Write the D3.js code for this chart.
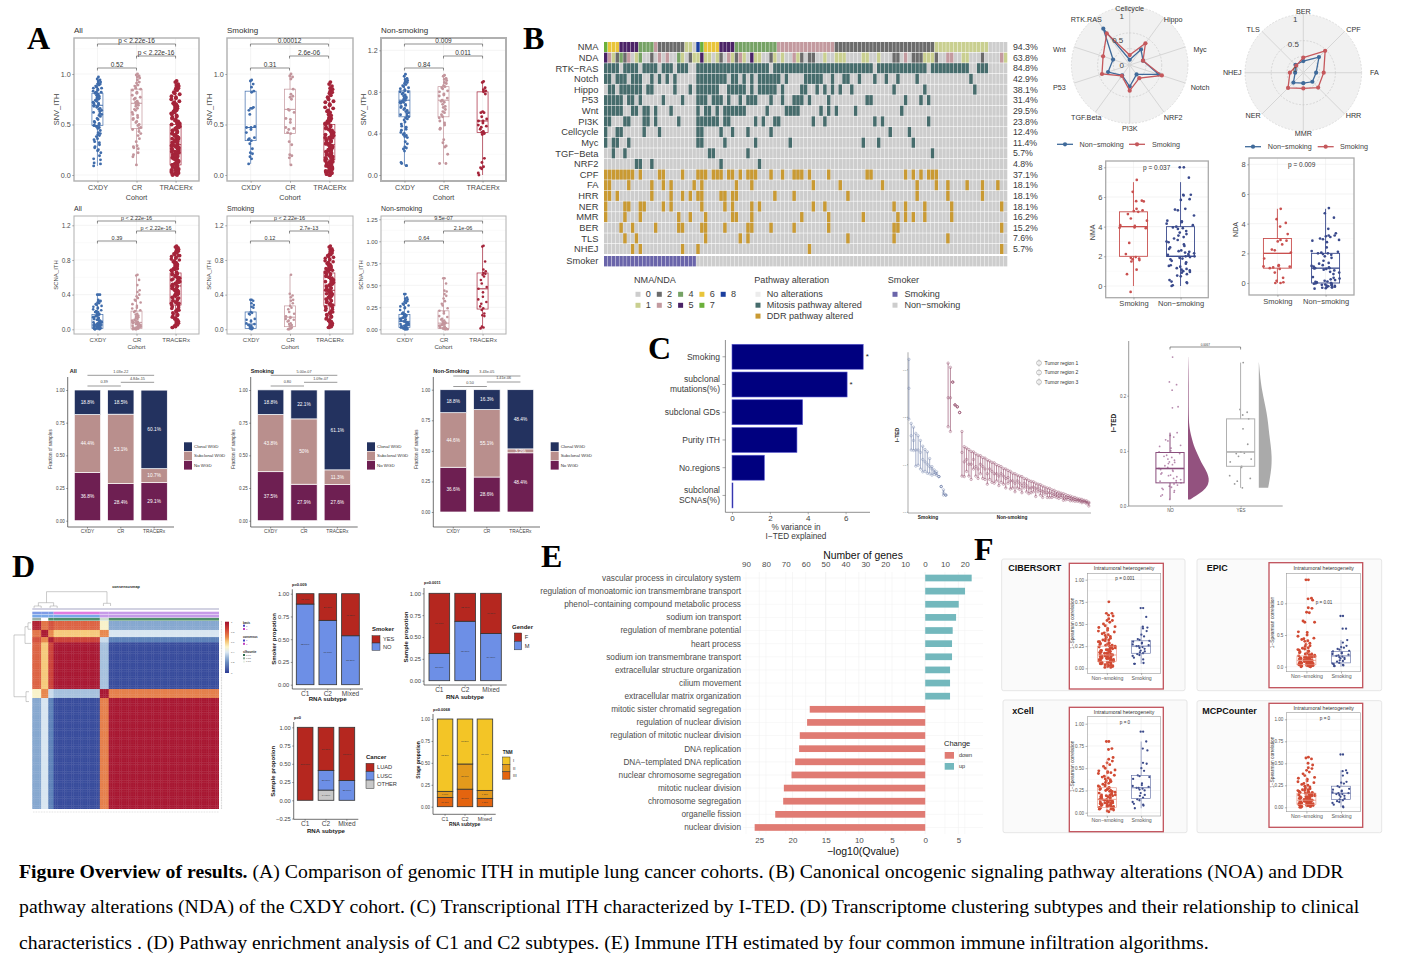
<!DOCTYPE html>
<html><head><meta charset="utf-8">
<script src="https://cdn.jsdelivr.net/npm/d3@7/dist/d3.min.js"></script>
<style>html,body{margin:0;padding:0;background:#fff}svg{display:block}text{font-family:"Liberation Sans",Arial,sans-serif}</style>
</head><body><svg id="c"></svg>
<script>
// ---------- DATA: panel A jitter ----------
const cohorts=['CXDY','CR','TRACERx'];
const snvAllCXDY=[.97,.95,.94,.93,.92,.91,.9,.9,.89,.88,.87,.86,.86,.85,.84,.83,.82,.82,.81,.8,.79,.78,.77,.76,.75,.75,.74,.73,.72,.71,.71,.7,.69,.68,.68,.67,.66,.65,.64,.63,.62,.61,.6,.59,.58,.56,.55,.53,.52,.51,.5,.49,.49,.48,.48,.47,.46,.44,.42,.41,.4,.39,.38,.36,.35,.33,.32,.3,.28,.27,.25,.24,.22,.19,.16,.15,.12,.11,.09];
const snvAllCR=[1,.99,.98,.97,.96,.94,.92,.91,.89,.88,.86,.85,.84,.82,.81,.79,.77,.76,.75,.73,.72,.71,.7,.69,.68,.66,.65,.64,.62,.6,.59,.57,.56,.55,.53,.52,.5,.49,.47,.46,.45,.43,.41,.39,.36,.33,.29,.28,.27,.26,.22,.2,.18,.1];
const snvAllTRACERx=[.93,.92,.9,.89,.88,.87,.86,.85,.84,.82,.81,.8,.78,.77,.76,.75,.73,.72,.71,.7,.69,.68,.67,.66,.65,.64,.63,.62,.61,.6,.59,.58,.57,.56,.55,.54,.53,.52,.51,.5,.5,.49,.48,.47,.47,.46,.45,.44,.44,.43,.42,.41,.41,.4,.39,.38,.38,.37,.36,.36,.35,.34,.34,.33,.32,.32,.31,.3,.3,.29,.28,.28,.27,.26,.26,.25,.25,.24,.23,.23,.22,.21,.21,.2,.2,.19,.18,.18,.17,.17,.16,.15,.15,.14,.14,.13,.12,.12,.11,.11,.1,.1,.09,.09,.08,.08,.07,.07,.06,.06,.05,.05,.04,.04,.03,.03,.02,.02,.01,.01,0,0,.47,.36,.29,.23,.16,.1,.05,.02,.01,.33,.19,.07];
const snvSmkCXDY=[.94,.93,.9,.87,.83,.82,.67,.66,.66,.64,.6,.48,.47,.47,.45,.42,.37,.36,.35,.34,.31,.26,.22,.21,.18,.16,.11];
const snvSmkCR=[1,.98,.97,.95,.85,.8,.78,.77,.75,.65,.64,.62,.56,.55,.52,.47,.46,.45,.42,.41,.33,.3,.2,.19,.17,.1];
const snvSmkTRACERx=[.92,.9,.88,.86,.85,.83,.82,.81,.79,.77,.75,.73,.72,.7,.69,.67,.66,.64,.63,.62,.6,.59,.57,.56,.55,.54,.53,.52,.51,.5,.49,.48,.47,.46,.45,.45,.44,.43,.42,.41,.4,.4,.39,.38,.37,.37,.36,.35,.34,.34,.33,.32,.31,.31,.3,.29,.29,.28,.27,.27,.26,.25,.25,.24,.23,.23,.22,.21,.21,.2,.2,.19,.18,.18,.17,.16,.16,.15,.15,.14,.13,.13,.12,.12,.11,.11,.1,.1,.09,.09,.08,.08,.07,.07,.06,.06,.05,.05,.04,.04,.03,.03,.02,.02,.01,.01,0,0,.28,.22,.14,.08,.04,.02,.37,.17];
const snvNonCXDY=[.97,.95,.93,.92,.91,.9,.89,.88,.87,.86,.85,.84,.83,.82,.81,.8,.8,.79,.78,.77,.76,.75,.74,.74,.73,.72,.71,.7,.7,.69,.68,.67,.66,.65,.64,.63,.62,.61,.6,.59,.58,.57,.56,.55,.54,.53,.51,.49,.47,.46,.44,.43,.41,.4,.39,.38,.37,.36,.32,.3,.27,.26,.25,.23,.12,.11,.09,.09];
const snvNonCR=[.96,.95,.93,.92,.91,.89,.88,.86,.85,.84,.83,.81,.8,.78,.77,.76,.74,.72,.71,.7,.68,.66,.65,.63,.61,.6,.58,.56,.55,.52,.5,.48,.45,.44,.34,.31,.28,.27,.2,.11,.11];
const snvNonTRACERx=[.9,.89,.84,.82,.81,.8,.78,.61,.6,.6,.56,.54,.52,.52,.5,.48,.47,.46,.44,.42,.41,.4,.39,.16,.12,.08,.07,.06,.02,0];
const scnaAllCXDY=[.4,.4,.4,.34,.33,.33,.32,.31,.3,.29,.28,.27,.26,.25,.24,.23,.22,.21,.2,.2,.19,.18,.18,.17,.16,.16,.15,.15,.14,.14,.13,.13,.12,.12,.11,.11,.1,.1,.09,.09,.08,.08,.08,.07,.07,.06,.06,.06,.05,.05,.05,.04,.04,.04,.03,.03,.03,.03,.02,.02,.02,.02,.01,.01,.01,.01,.01,0,0,0,.12,.07,.05,.03,.02,.01];
const scnaAllCR=[.63,.62,.57,.51,.45,.43,.4,.38,.36,.34,.33,.31,.29,.27,.25,.24,.22,.21,.2,.18,.17,.16,.15,.14,.13,.12,.11,.1,.1,.09,.09,.08,.08,.07,.07,.06,.06,.05,.05,.04,.04,.04,.03,.03,.03,.02,.02,.02,.01,.01,.01,.01,0,0,0];
const scnaAllTRACERx=[.96,.95,.94,.93,.92,.91,.9,.89,.88,.87,.86,.85,.84,.83,.82,.81,.8,.79,.78,.77,.76,.75,.74,.73,.72,.71,.7,.69,.68,.67,.66,.65,.64,.63,.62,.61,.6,.6,.59,.58,.57,.56,.55,.55,.54,.53,.52,.51,.5,.5,.49,.48,.47,.46,.45,.45,.44,.43,.42,.41,.4,.4,.39,.38,.37,.36,.35,.34,.33,.33,.32,.31,.3,.29,.28,.27,.26,.25,.24,.23,.22,.21,.2,.19,.18,.17,.16,.15,.14,.13,.12,.11,.1,.09,.08,.07,.06,.05,.04,.03,.02,.02,.7,.64,.58,.52,.47,.41,.36,.6,.68,.55,.5,.44,.3,.75,.85,.62];
const scnaSmkCXDY=[.34,.34,.33,.3,.28,.26,.25,.2,.19,.18,.17,.12,.11,.1,.09,.07,.06,.05,.05,.04,.03,.02,.02,.01,.01,0];
const scnaSmkCR=[.63,.41,.39,.37,.34,.33,.3,.27,.25,.23,.2,.18,.15,.14,.13,.12,.11,.1,.09,.07,.06,.05,.04,.02,.01,.01,0,0];
const scnaSmkTRACERx=[.96,.95,.93,.92,.91,.9,.88,.87,.86,.85,.84,.83,.82,.81,.8,.79,.78,.77,.76,.75,.74,.73,.72,.71,.7,.69,.68,.67,.66,.65,.64,.63,.62,.61,.6,.6,.59,.58,.57,.56,.55,.55,.54,.53,.52,.51,.5,.5,.49,.48,.47,.46,.45,.45,.44,.43,.42,.41,.4,.4,.39,.38,.37,.36,.35,.34,.33,.33,.32,.31,.3,.29,.28,.27,.26,.25,.24,.23,.22,.21,.2,.19,.18,.17,.16,.15,.14,.13,.12,.11,.1,.09,.08,.07,.06,.05,.04,.03,.02,.02,.7,.64,.58,.52,.47,.41,.36,.6,.68,.55];
const scnaNonCXDY=[.4,.4,.36,.35,.34,.33,.32,.31,.3,.29,.28,.27,.26,.25,.24,.22,.2,.19,.18,.17,.17,.16,.15,.15,.14,.14,.13,.13,.12,.12,.11,.11,.1,.1,.09,.09,.08,.08,.07,.07,.06,.06,.05,.05,.05,.04,.04,.04,.03,.03,.03,.02,.02,.02,.01,.01,.01,.01,0,0,0,0];
const scnaNonCR=[.58,.58,.52,.44,.43,.4,.38,.35,.32,.29,.27,.24,.21,.2,.18,.15,.14,.12,.11,.1,.09,.08,.07,.07,.06,.06,.05,.05,.04,.04,.03,.03,.02,.02,.01,.01,.01,0,0,0];
const scnaNonTRACERx=[.95,.94,.77,.68,.66,.64,.63,.62,.6,.56,.52,.48,.46,.42,.37,.34,.31,.29,.26,.24,.22,.18,.16,.15,.03,.02,.01];
// box stats: [low, q1, median, q3, high]
const snvAllBoxes=[[.09,.49,.69,.81,.97],[.1,.46,.71,.85,1],[0,.1,.3,.5,.93]];
const snvSmkBoxes=[[.11,.34,.47,.83,.94],[.1,.41,.65,.85,1],[0,.15,.3,.5,.92]];
const snvNonBoxes=[[.09,.56,.72,.81,.97],[.11,.56,.72,.85,.96],[0,.41,.52,.8,.9]];
const scnaAllBoxes=[[0,.01,.05,.17,.4],[0,.01,.08,.21,.63],[.02,.28,.5,.65,.96]];
const scnaSmkBoxes=[[0,.01,.06,.2,.34],[0,.03,.14,.27,.63],[.02,.27,.45,.65,.96]];
const scnaNonBoxes=[[0,.02,.09,.17,.4],[0,.01,.07,.21,.58],[.01,.23,.46,.64,.95]];
// ---------- DATA: WGD stacks ----------
const wgdCats=['CXDY','CR','TRACERx'];
const allNoWGD=[36.8,28.4,29.1], allSubWGD=[44.4,53.1,10.7], allClonalWGD=[18.8,18.5,60.1];
const smkNoWGD=[37.5,27.9,27.6], smkSubWGD=[43.8,50,11.3], smkClonalWGD=[18.8,22.1,61.1];
const nonNoWGD=[36.6,28.6,48.4], nonSubWGD=[44.6,55.1,3.2], nonClonalWGD=[18.8,16.3,48.4];
// ---------- DATA: oncoprint ----------
const pathwayNames=['RTK−RAS','Notch','Hippo','P53','Wnt','PI3K','Cellcycle','Myc','TGF−Beta','NRF2','CPF','FA','HRR','NER','MMR','BER','TLS','NHEJ'];
const pathwayPct=['84.8%','42.9%','38.1%','31.4%','29.5%','23.8%','12.4%','11.4%','5.7%','4.8%','37.1%','18.1%','18.1%','18.1%','16.2%','15.2%','7.6%','5.7%'];
const rtkRas=[0,1,2,3,5,6,7,8,10,11,12,13,15,16,17,19,20,21,24,25,26,27,28,29,30,31,32,33,34,35,36,37,38,39,40,41,42,44,45,46,47,48,49,50,51,52,53,54,55,56,57,58,59,60,61,62,63,64,65,66,67,68,69,71,72,73,74,75,76,77,78,79,80,81,82,83,85,86,87,88,89,90,91,92,93,94,97,98,99];
const notch=[0,1,3,4,5,7,8,9,12,14,16,18,24,25,26,27,28,29,30,31,33,34,36,38,40,41,42,43,44,45,47,52,53,54,55,56,59,62,63,66,70,73,76,81,95];
const hippo=[1,2,4,5,6,7,8,9,11,12,18,22,24,25,26,27,28,29,32,33,34,35,36,38,40,41,42,43,44,46,51,52,55,57,59,61,64,75,83,96];
const p53=[0,1,2,3,4,6,7,9,15,20,24,25,26,28,29,30,32,35,37,38,39,43,46,49,50,51,53,58,68,69,78,82,84];
const wnt=[0,1,2,3,4,7,8,10,11,13,17,24,26,27,29,31,32,33,34,35,36,42,47,48,49,50,56,58,60,65,77];
const pi3k=[0,1,5,6,10,11,13,19,24,25,26,27,28,29,31,32,39,41,44,45,54,57,70,72,84];
const cellcycle=[0,3,4,10,14,24,25,30,33,37,43,74,79];
const myc=[0,2,3,6,24,25,31,39,48,67,71,80];
const tgfBeta=[2,5,27,28,37,85];
const nrf2=[8,9,12,30,40];
const cpf=[0,1,2,3,4,5,6,7,9,14,15,20,24,25,26,28,29,30,32,33,35,37,38,39,43,46,49,50,51,53,58,68,69,78,80,82,84,85,86];
const fa=[0,1,6,12,15,17,23,25,34,38,54,61,72,81,86,89,94,98,102];
const hrr=[0,1,3,12,17,20,22,24,25,30,31,33,34,44,49,63,81,89,98];
const ner=[0,5,6,9,10,15,17,25,31,33,38,40,54,57,75,78,83,90,103];
const mmr=[0,5,9,19,22,26,33,34,38,51,58,67,76,78,80,83,90];
const ber=[4,7,13,19,20,25,26,31,37,38,43,49,58,75,76,103];
const tls=[5,8,26,35,37,63,75,89];
const nhej=[7,9,20,24,53,103];
const nmaRow=[7,6,6,6,5,5,5,5,5,4,4,4,4,3,2,2,2,2,2,2,2,1,1,0,8,7,6,6,6,6,5,5,5,5,4,4,4,4,4,4,4,4,4,4,4,3,3,3,3,3,3,3,3,3,3,3,3,3,3,3,2,2,2,2,2,2,2,2,2,2,2,2,2,2,2,2,2,2,2,2,2,2,2,2,2,2,1,1,1,1,1,1,1,1,1,1,1,1,1,1,0,0,0,0,0];
const ndaRow=[5,3,1,2,4,2,3,0,1,4,0,0,2,0,3,0,3,0,0,4,1,0,2,1,1,5,1,1,0,1,2,0,3,1,2,3,1,0,5,1,1,0,0,2,1,0,1,0,0,3,1,2,0,2,2,0,0,1,0,0,1,1,1,0,0,0,0,1,1,0,0,1,0,0,0,2,2,0,3,0,2,2,2,1,1,1,2,0,0,3,3,0,0,1,1,0,0,0,2,0,0,0,0,3,1];
const smokerCount=[24,81];
const nmaLevels=[0,1,2,3,4,5,6,7,8];
const pathLegend=['No alterations','Mitosis pathway altered','DDR pathway altered'];
const smokerLegend=['Smoking','Non−smoking'];
// ---------- DATA: radars ----------
const radar1Axes=['Cellcycle','Hippo','Myc','Notch','NRF2','PI3K','TGF.Beta','P53','Wnt','RTK.RAS'];
const radar1Non=[.09,.33,.24,.52,.2,.37,.22,.39,.3,.77];
const radar1Smk=[.17,.46,.24,.58,.28,.44,.23,.5,.48,.67];
const radar2Axes=['BER','CPF','FA','HRR','MMR','NER','NHEJ','TLS'];
const radar2Non=[.2,.38,.22,.22,.18,.24,.14,.19];
const radar2Smk=[.26,.53,.35,.36,.27,.37,.23,.17];
// ---------- DATA: NMA / NDA boxes ----------
const nmaSmk=[7.15,6.35,5.75,5.72,5.7,5.2,5.1,5.05,5,4.85,4.55,4.4,4.1,4.05,3.95,3.92,3.9,2.9,2.15,1.95,1.9,1.85,1.8,1.75,1.65,1.1,.8,-.4];
const nmaNon=[8,8,7.3,6.15,6.15,6.1,5.85,5.8,5.2,5.15,5.1,4.75,4.4,4.35,4.3,4.2,4.1,4,3.95,3.9,3.85,3.7,3.6,3.5,3.4,3.3,3.2,3.1,3,2.95,2.8,2.7,2.6,2.5,2.4,2.35,2.3,2.25,2.2,2.15,2.1,2.05,2,2,1.95,1.9,1.85,1.8,1.7,1.6,1.5,1.4,1.35,1.3,1.2,1.15,1.1,1.05,1,.95,.9,.8,.7,.65,.4,.3,.25,.2,.05,0];
const ndaSmk=[5,4.3,4.05,3.8,3.3,2.9,2.85,2.8,2.6,2.25,2.2,2.05,1.65,1.2,1.15,1.12,1.1,1.05,1,.95,.7,.35,.15,.05,0,0];
const ndaNon=[5.05,4.7,4.4,3.65,3.35,3.2,3.2,3.15,3.1,3,2.95,2.9,2.85,2.75,2.4,2.15,2.1,2.05,2,2,1.95,1.9,1.8,1.7,1.5,1.35,1.3,1.2,1.15,1.1,1.05,1,1,.98,.95,.9,.85,.75,.7,.6,.4,.35,.3,.25,.2,.15,.1,.08,.05,0,0,-.02,-.05,-.1,-.12,-.15,-.18,-.2,-.22,-.25,-.27,-.3,-.32,-.35,-.38,.02,-.08,-.28];
const nmaBoxes=[[0,2,4,5,7],[0,2,2,4,7]];
const ndaBoxes=[[0,1,2,3,5],[0,0,1,2,5]];
// ---------- DATA: panel C ----------
const varNames=[['Smoking'],['subclonal','mutations(%)'],['subclonal GDs'],['Purity ITH'],['No.regions'],['subclonal','SCNAs(%)']];
const varValues=[6.93,6.08,3.73,3.43,1.71,.05];
const itedSmkHi=[.321,.186,.178,.165,.16,.15,.138,.131,.126,.112,.095,.088,.084,.074,.053,.046,.035];
const itedSmkMid=[.26,.16,.15,.13,.13,.125,.11,.105,.1,.095,.09,.083,.08,.074,.053,.04,.035];
const itedSmkLo=[.195,.13,.129,.096,.098,.09,.084,.085,.081,.08,.077,.079,.077,.074,.053,.035,.035];
const itedNonHi=[.313,.304,.273,.225,.221,.209,.169,.137,.134,.131,.127,.126,.122,.119,.118,.114,.113,.109,.107,.104,.103,.099,.097,.095,.091,.09,.087,.085,.081,.08,.077,.075,.074,.07,.069,.066,.064,.063,.06,.058,.057,.054,.052,.05,.049,.046,.045,.042,.041,.039,.038,.036,.034,.033,.031,.03,.028,.027,.026,.024,.023,.02];
const itedNonMid=[.24,.24,.273,.225,.221,.209,.125,.105,.11,.1,.1,.11,.095,.09,.1,.095,.09,.08,.09,.085,.08,.08,.075,.08,.075,.07,.072,.065,.065,.06,.065,.06,.055,.06,.055,.05,.05,.052,.048,.05,.045,.042,.044,.04,.04,.038,.037,.036,.034,.035,.03,.03,.03,.028,.027,.026,.025,.024,.022,.022,.02,.018];
const itedNonLo=[.179,.169,.273,.225,.221,.209,.075,.074,.085,.075,.068,.09,.075,.07,.08,.07,.068,.058,.068,.062,.06,.065,.055,.062,.058,.05,.06,.048,.05,.042,.05,.047,.04,.05,.042,.038,.04,.042,.032,.042,.035,.03,.037,.03,.03,.03,.032,.03,.028,.03,.024,.025,.026,.023,.023,.022,.022,.021,.019,.02,.017,.012];
const itedLegend=['Tumor region 1','Tumor region 2','Tumor region 3'];
const rainNO=[.27,.225,.22,.21,.18,.178,.133,.128,.125,.12,.118,.11,.108,.105,.1,.098,.095,.092,.09,.088,.085,.083,.08,.079,.077,.075,.073,.07,.068,.066,.065,.063,.06,.058,.056,.055,.053,.05,.048,.046,.045,.043,.042,.04,.038,.036,.034,.032,.03,.028,.025,.02,.018,.012];
const rainYES=[.26,.175,.17,.165,.158,.14,.112,.098,.096,.095,.09,.085,.08,.072,.07,.055,.05,.045,.04,.033];
const rainBoxes=[[.012,.042,.068,.097,.133],[.033,.072,.098,.158,.26]];
const densNOv=[.012,.02,.03,.04,.05,.06,.07,.08,.09,.1,.11,.12,.13,.14,.15,.16,.18,.2,.22,.25,.27];
const densNOd=[.1,.45,.8,.98,1,.92,.78,.62,.5,.38,.27,.2,.13,.08,.05,.04,.03,.03,.03,.02,.005];
const densYESv=[.033,.05,.07,.09,.11,.13,.15,.17,.19,.21,.23,.26];
const densYESd=[.72,.85,.98,1,.92,.8,.72,.6,.42,.25,.12,.01];
// ---------- DATA: panel D ----------
const consensusMatrix=[[.95,.74,.82,.78,.49,.28],[.74,.97,.7,.6,.7,.4],[.82,.7,.96,.86,.38,.2],[.78,.6,.86,.98,.33,.03],[.49,.7,.38,.33,.98,.72],[.28,.4,.2,.03,.72,.98]];
const clusterSizes=[5,4,3,26,5,62];
const rnaSubtypes=['C1','C2','Mixed'];
const smokerNO=[.886,.707,.538], smokerYES=[.114,.293,.462];
const genderM=[.31,.68,.54], genderF=[.69,.32,.46];
const cancerOTHER=[0,.14,0], cancerLUSC=[0,.27,.27], cancerLUAD=[1,.59,.73];
const tnmIII=[.106,.2,.095], tnmII=[.069,.287,.091], tnmI=[.825,.513,.814];
// ---------- DATA: panel E ----------
const termsUp=['vascular process in circulatory system','regulation of monoatomic ion transmembrane transport','phenol−containing compound metabolic process','sodium ion transport','regulation of membrane potential','heart process','sodium ion transmembrane transport','extracellular structure organization','cilium movement','extracellular matrix organization'];
const qUp=[7,6,5.05,4.65,4.14,4.04,4.04,3.74,3.74,3.74];
const termsDown=['mitotic sister chromatid segregation','regulation of nuclear division','regulation of mitotic nuclear division','DNA replication','DNA−templated DNA replication','nuclear chromosome segregation','mitotic nuclear division','chromosome segregation','organelle fission','nuclear division'];
const qDown=[17.4,17.8,18.9,19,19.6,20.15,21.3,21.4,22.6,25.7];
const geneTicks=[-90,-80,-70,-60,-50,-40,-30,-20,-10,0,10,20];
const qTicks=[-25,-20,-15,-10,-5,0,5];
// ---------- DATA: panel F ----------
const cibNon=[.75,.62,.62,.6,.59,.56,.54,.54,.52,.5,.48,.47,.46,.45,.43,.42,.41,.4,.39,.38,.37,.36,.35,.34,.33,.32,.32,.31,.3,.3,.29,.28,.28,.27,.27,.26,.26,.25,.25,.24,.24,.23,.23,.22,.22,.21,.21,.2,.2,.19,.19,.18,.18,.17,.17,.16,.16,.15,.15,.15,.14,.14,.14,.13,.13,.13,.12,.12,.12,.11,.11,.11,.1,.1,.1,.09,.09,.09,.08,.08,.08,.07,.07,.07,.06,.06,.06,.05,.05,.05,.04,.04,.04,.03,.03,.02,.02,.01,.01,.12,.16,.2,.24,.09,.14,.06,.18,.11];
const cibSmk=[.68,.68,.58,.47,.46,.45,.42,.38,.36,.33,.32,.31,.3,.29,.28,.27,.26,.25,.25,.24,.23,.22,.2,.19,.18,.17,.16,.15,.14,.12,.1,.06,.05,.05];
const epicNon=[1.37,1.37,1.08,1.07,1.05,.93,.92,.86,.85,.72,.7,.7,.55,.54,.5,.48,.45,.44,.43,.41,.4,.37,.35,.33,.32,.3,.29,.28,.27,.26,.25,.24,.23,.22,.21,.2,.2,.19,.18,.18,.17,.17,.16,.16,.15,.15,.14,.14,.13,.13,.12,.12,.12,.11,.11,.1,.1,.1,.09,.09,.09,.08,.08,.08,.07,.07,.07,.06,.06,.06,.05,.05,.05,.04,.04,.04,.03,.03,.03,.02,.02,.02,.01,.01,.01,0,0,0,.06,.11,.15,.04,.08,.02,.13,.05,.03,.09];
const epicSmk=[.8,.8,.6,.6,.42,.38,.33,.31,.3,.28,.27,.25,.24,.22,.21,.2,.19,.18,.17,.16,.15,.14,.13,.12,.1,.09,.08,.06,.05,.04,.03,.02,.01,.01];
const xcellNon=[.8,.8,.72,.71,.62,.6,.58,.56,.54,.52,.5,.48,.47,.46,.45,.44,.42,.41,.4,.39,.38,.37,.36,.35,.34,.33,.32,.31,.3,.29,.28,.28,.27,.26,.26,.25,.24,.24,.23,.22,.22,.21,.2,.2,.19,.19,.18,.18,.17,.17,.16,.16,.15,.15,.14,.14,.13,.13,.12,.12,.12,.11,.11,.1,.1,.1,.09,.09,.09,.08,.08,.08,.07,.07,.06,.06,.05,.05,.04,.04,.03,.02,.01,.2,.15,.35,.25,.18,.12,.07,.3,.45,.27,.11];
const xcellSmk=[.91,.91,.8,.72,.7,.56,.55,.5,.47,.42,.41,.4,.38,.33,.31,.3,.29,.28,.28,.27,.26,.25,.22,.2,.19,.17,.15,.14,.12,.1,.09,.08,.05];
const mcpNon=[.57,.56,.55,.5,.48,.45,.44,.42,.4,.38,.36,.34,.33,.32,.3,.29,.28,.27,.26,.25,.24,.23,.22,.21,.21,.2,.2,.19,.19,.18,.18,.17,.17,.16,.16,.16,.15,.15,.15,.14,.14,.14,.13,.13,.13,.12,.12,.12,.11,.11,.11,.1,.1,.1,.09,.09,.09,.08,.08,.08,.07,.07,.07,.06,.06,.06,.06,.05,.05,.05,.05,.04,.04,.04,.04,.03,.03,.03,.03,.02,.02,.02,.02,.01,.01,.01,.01,0,0,.11,.07,.14,.05,.03,.09,.17,.02,.06];
const mcpSmk=[.6,.6,.42,.41,.39,.36,.29,.28,.27,.24,.23,.21,.2,.19,.18,.17,.16,.16,.15,.15,.14,.13,.12,.1,.09,.08,.07,.06,.05,.03,.01,0];
const immuneBoxes={cib:[[0,.08,.15,.25,.5],[.05,.17,.25,.31,.47]],epic:[[0,.03,.1,.17,.4],[0,.06,.17,.24,.42]],xcell:[[0,.06,.15,.28,.6],[.05,.16,.28,.42,.8]],mcp:[[0,.03,.08,.16,.35],[0,.09,.16,.24,.42]]};
const immuneCats=['Non−smoking','Smoking'];
const captionLines=[[['Figure Overview of results.',true],[' (A) Comparison of genomic ITH in mutiple lung cancer cohorts. (B) Canonical oncogenic signaling pathway alterations (NOA) and DDR',false]],
[['pathway alterations (NDA) of the CXDY cohort. (C) Transcriptional ITH characterized by I-TED. (D) Transcriptome clustering subtypes and their relationship to clinical',false]],
[['characteristics . (D) Pathway enrichment analysis of C1 and C2 subtypes. (E) Immune ITH estimated by four common immune infiltration algorithms.',false]]];

// ---------- HELPERS ----------
const svg=d3.select('#c').attr('width',1404).attr('height',972);
svg.append('rect').attr('width',1404).attr('height',972).attr('fill','#fff');
function T(g,x,y,s,o={}){const t=g.append('text').attr('x',x).attr('y',y).attr('dy','.35em').attr('font-size',o.size||8).attr('fill',o.fill||'#333').attr('text-anchor',o.anchor||'start').text(s);
 if(o.weight)t.attr('font-weight',o.weight); if(o.rot)t.attr('transform',`rotate(${o.rot} ${x} ${y})`); if(o.family)t.style('font-family',o.family); return t;}
function L(g,x1,y1,x2,y2,c='#888',w=.6){return g.append('line').attr('x1',x1).attr('y1',y1).attr('x2',x2).attr('y2',y2).attr('stroke',c).attr('stroke-width',w);}
function R(g,x,y,w,h,f,s,sw){const r=g.append('rect').attr('x',x).attr('y',y).attr('width',w).attr('height',h).attr('fill',f||'none');if(s)r.attr('stroke',s).attr('stroke-width',sw||.5);return r;}
function ax(g,gen,tx,ty,size,color,lc){const a=g.append('g').attr('transform',`translate(${tx},${ty})`).call(gen);a.select('.domain').remove();a.selectAll('text').attr('font-size',size).attr('fill',color||'#4d4d4d');a.selectAll('line').attr('stroke',lc||'#666').attr('stroke-width',.5);return a;}
const jit=i=>((i*i*0.2360679+(i+1)*0.6180339887)%1)*2-1;
function box(g,xc,bw,y,b,color,w=.8,medW){
 L(g,xc,y(b[0]),xc,y(b[1]),color,w);L(g,xc,y(b[3]),xc,y(b[4]),color,w);
 R(g,xc-bw/2,y(b[3]),bw,y(b[1])-y(b[3]),'none',color,w);
 L(g,xc-bw/2,y(b[2]),xc+bw/2,y(b[2]),color,medW||w*1.4);
}
function bracket(g,x1,x2,y,label,ly,size,col='#444'){
 g.append('path').attr('d',`M${x1},${y+2.5}V${y}H${x2}V${y+2.5}`).attr('fill','none').attr('stroke',col).attr('stroke-width',.6);
 T(g,(x1+x2)/2,ly,label,{size,anchor:'middle',fill:'#333'});
}
function jitterPlot(c){
 const g=svg.append('g');
 const y=d3.scaleLinear().domain(c.yd).range(c.yr);
 const x=d3.scalePoint().domain(c.cats).range([c.l,c.r]).padding(c.pad);
 if(c.bg)R(g,c.l,c.t,c.r-c.l,c.b-c.t,c.bg);
 const step=c.ticks[1]-c.ticks[0];
 c.ticks.forEach((v,i)=>{L(g,c.l,y(v),c.r,y(v),'#e8e8e8',.5);const m=v+step/2;if(y(m)>c.t)L(g,c.l,y(m),c.r,y(m),'#f2f2f2',.4);});
 c.cats.forEach(k=>L(g,x(k),c.t,x(k),c.b,'#e8e8e8',.5));
 c.groups.forEach((gr,i)=>{const k=c.cats[i];
  if(c.boxOver!==true)box(g,x(k),c.bw,y,gr.box,gr.color,c.bs||.7);
  const pr=c.pr+(gr.vals.length>90?(c.dense||0):0);
  g.append('g').selectAll('circle').data(gr.vals).join('circle').attr('cx',(d,j)=>x(k)+jit(j)*c.jw).attr('cy',d=>y(d)).attr('r',pr).attr('fill',gr.color);
  if(c.boxOver===true)box(g,x(k),c.bw,y,gr.box,gr.bcolor||gr.color,c.bs||.7);
 });
 R(g,c.l,c.t,c.r-c.l,c.b-c.t,'none',c.frame||'#b0b0b0',c.fw||1.2);
 ax(g,d3.axisLeft(y).tickValues(c.ticks).tickFormat(c.fmt).tickSize(1.8).tickPadding(1.5),c.l,0,c.ts,c.tc);
 ax(g,d3.axisBottom(x).tickSize(1.8).tickPadding(c.xp||1.5),0,c.b,c.xs,c.tc||'#444');
 if(c.xtitle)T(g,(c.l+c.r)/2,c.xty,c.xtitle,{size:c.xs,anchor:'middle',fill:'#444'});
 if(c.ytitle)T(g,c.ytx,(c.t+c.b)/2,c.ytitle,{size:c.ys||c.xs,anchor:'middle',rot:-90,fill:'#444'});
 if(c.title)T(g,c.l,c.tty,c.title,{size:c.tsz,fill:'#333'});
 return {g,x,y};
}
function stackPlot(c){
 const g=svg.append('g');
 const y=d3.scaleLinear().domain([0,1]).range([c.y0,c.y1]);
 const x=d3.scaleBand().domain(c.cats).range([c.bl,c.br]).paddingInner(c.pad).paddingOuter(0);
 const rows=c.cats.map((k,i)=>{const o={k};c.keys.forEach((s,j)=>o[s]=c.series[j][i]);return o;});
 const st=d3.stack().keys(c.keys).value((d,key)=>d[key]/(c.div||1))(rows);
 st.forEach((ser,j)=>{ser.forEach((s,i)=>{const k=c.cats[i];
   if(s[1]-s[0]<=0)return;
   R(g,x(k),y(s[1]),x.bandwidth(),y(s[0])-y(s[1]),c.colors[j],c.stroke||'#fff',c.sw||.7);
   const lab=c.labelFn(c.series[j][i]);
   T(g,x(k)+x.bandwidth()/2,(y(s[0])+y(s[1]))/2,lab,{size:c.ls,anchor:'middle',fill:c.lf});
 });});
 L(g,c.l,c.t,c.l,c.b,'#333',.7);L(g,c.l,c.b,c.e,c.b,'#333',.7);
 ax(g,d3.axisLeft(y).tickValues(c.ticks||[0,.25,.5,.75,1]).tickFormat(d3.format('.2f')).tickSize(1.5).tickPadding(1.5),c.l,0,c.ts,'#444','#333');
 ax(g,d3.axisBottom(x).tickSize(1.5).tickPadding(1),0,c.b,c.xs,'#444','#333');
 return {g,x,y};
}
const fmt1=d3.format('.1f'),fmt2=d3.format('.2f');

// ---------- PANEL LETTERS ----------
[['A',27,49],['B',523,49],['C',648,359],['D',12,577],['E',541,567],['F',974,560]].forEach(d=>{
 svg.append('text').attr('x',d[1]).attr('y',d[2]).attr('font-size',32).attr('font-weight','bold').attr('fill','#000').style('font-family','"Liberation Serif",serif').text(d[0]);});

// ---------- PANEL A ----------
const colA=['#3f6cab','#c3959c','#a5243a'];
function groupsOf(v,b){return v.map((vals,i)=>({vals,box:b[i],color:colA[i]}));}
const row1={cats:cohorts,pad:.6,t:38,b:181,bw:11,jw:4.3,pr:1.45,dense:.5,ts:7.2,xs:7.2,xp:2,xty:197,tty:30,tsz:8,fw:1.4,bg:'#fff',tc:'#4d4d4d',ys:7.5};
jitterPlot({...row1,l:74,r:199,yd:[0,1],yr:[175,74],ticks:[0,.5,1],fmt:fmt1,groups:groupsOf([snvAllCXDY,snvAllCR,snvAllTRACERx],snvAllBoxes),xtitle:'Cohort',ytitle:'SNV_ITH',ytx:56,title:'All'});
jitterPlot({...row1,l:227,r:353,yd:[0,1],yr:[175,74],ticks:[0,.5,1],fmt:fmt1,groups:groupsOf([snvSmkCXDY,snvSmkCR,snvSmkTRACERx],snvSmkBoxes),xtitle:'Cohort',ytitle:'SNV_ITH',ytx:209,title:'Smoking'});
jitterPlot({...row1,l:381,r:506,fw:2,yd:[0,1.2],yr:[175,50.3],ticks:[0,.4,.8,1.2],fmt:fmt1,groups:groupsOf([snvNonCXDY,snvNonCR,snvNonTRACERx],snvNonBoxes),ytitle:'SNV_ITH',ytx:363,title:'Non-smoking'});
T(svg,443.5,197,'Cohort',{size:7.2,anchor:'middle',fill:'#444'});
const row2={cats:cohorts,pad:.6,t:216,b:334,bw:11,jw:4.3,pr:1.3,dense:.5,ts:6.5,xs:6,xp:1.5,xty:347,tty:209,tsz:7,fw:1,bg:'#fff',tc:'#4d4d4d',ys:6};
jitterPlot({...row2,l:74,r:199,yd:[0,1.2],yr:[329.3,225.3],ticks:[0,.4,.8,1.2],fmt:fmt1,groups:groupsOf([scnaAllCXDY,scnaAllCR,scnaAllTRACERx],scnaAllBoxes),xtitle:'Cohort',ytitle:'SCNA_ITH',ytx:56,title:'All'});
jitterPlot({...row2,l:227,r:353,yd:[0,1.2],yr:[329.3,225.3],ticks:[0,.4,.8,1.2],fmt:fmt1,groups:groupsOf([scnaSmkCXDY,scnaSmkCR,scnaSmkTRACERx],scnaSmkBoxes),xtitle:'Cohort',ytitle:'SCNA_ITH',ytx:209,title:'Smoking'});
jitterPlot({...row2,l:381,r:506,yd:[0,1.25],yr:[329.3,219.3],ticks:[0,.25,.5,.75,1,1.25],fmt:fmt2,ts:5.8,groups:groupsOf([scnaNonCXDY,scnaNonCR,scnaNonTRACERx],scnaNonBoxes),xtitle:'Cohort',ytitle:'SCNA_ITH',ytx:361,title:'Non-smoking'});
function aBrackets(l,labs,ys,lys,size){const step=(125)/3.2,a=l+.6*step,b=a+step,c=b+step;
 bracket(svg,a,c,ys[0],labs[0],lys[0],size);bracket(svg,b,c,ys[1],labs[1],lys[1],size);bracket(svg,a,b,ys[2],labs[2],lys[2],size);}
aBrackets(74,['p < 2.22e-16','p < 2.22e-16','0.52'],[44,56,68],[40.5,53,65],6.5);
aBrackets(227,['0.00012','2.6e-06','0.31'],[44,56,68],[40.5,53,65],6.5);
aBrackets(381,['0.009','0.011','0.84'],[44,56,68],[40.5,53,65],6.5);
aBrackets(74,['p < 2.22e-16','p < 2.22e-16','0.39'],[221,231,241],[218.5,228.5,238.5],5.5);
aBrackets(227,['p < 2.22e-16','2.7e-13','0.12'],[221,231,241],[218.5,228.5,238.5],5.5);
aBrackets(381,['9.5e-07','2.1e-06','0.64'],[221,231,241],[218.5,228.5,238.5],5.5);

// WGD stacks
const wgdColors=['#6e1f52','#b98f8d','#23325f'],wgdKeys=['No','Sub','Clonal'];
function wgd(c,series,title,br,bl2,leg){
 const s=stackPlot({...c,cats:wgdCats,pad:.21,keys:wgdKeys,series,div:100,colors:wgdColors,labelFn:d=>d+'%',lf:'#fff',ls:4.8,ts:4.5,xs:4.8,t:377,b:527});
 T(svg,c.l+(title.length>4?0:2),371,title,{size:5.5,weight:'bold',fill:'#222'});
 T(svg,c.l-17,(377+527)/2-3,'Fraction of samples',{size:4.5,anchor:'middle',rot:-90,fill:'#333'});
 const x=s.x,bw=x.bandwidth(),cx=k=>x(k)+bw/2;
 const [a,b,d]=wgdCats.map(cx);
 const bt=(x1,x2,y,t,ly)=>{L(svg,x1,y,x2,y,'#555',.6);T(svg,(x1+x2)/2,ly,t,{size:3.8,anchor:'middle',fill:'#444'});};
 bt(a,d,br[0],bl2[0],br[0]-4);bt(b,d,br[1],bl2[1],br[1]-4);bt(a,b,br[2],bl2[2],br[2]-4);
 const rows=[['Clonal WGD','#23325f'],['Subclonal WGD','#b98f8d'],['No WGD','#6e1f52']];
 rows.forEach((r,i)=>{R(svg,leg,442.3+i*9.3,8,8.7,r[1]);T(svg,leg+10,446.5+i*9.3,r[0],{size:4.4,fill:'#333'});});
}
wgd({l:67.7,e:174,y0:520.7,y1:390,bl:74.3,br:167.3},[allNoWGD,allSubWGD,allClonalWGD],'All',[375.3,382.3,386],['1.03e-22','4.84e-15','0.39'],184);
wgd({l:250.7,e:357.7,y0:520.7,y1:390,bl:257.5,br:350.5},[smkNoWGD,smkSubWGD,smkClonalWGD],'Smoking',[375.3,382.3,386],['5.00e-07','1.09e-07','0.80'],367);
wgd({l:433.3,e:540,y0:512,y1:389.7,bl:440,br:533.7},[nonNoWGD,nonSubWGD,nonClonalWGD],'Non-Smoking',[376,382,386.5],['3.43e-05','1.41e-06','0.50'],550.7);

// ---------- PANEL B oncoprint ----------
const bG=svg.append('g');
const cols=d3.range(105);
const bx=d3.scaleBand().domain(cols).range([603.8,1007.5]);
const rowNames=['NMA','NDA',...pathwayNames];
const by=d3.scaleBand().domain(rowNames).range([47-5.315,249+5.315]);
const nmaColor=d3.scaleOrdinal().domain(nmaLevels).range(['#cdcdcd','#c9cf90','#6b6b6b','#c39a9f','#76a265','#4a2266','#e9c53a','#6bb03a','#1b3f9f']);
const pathRows=[rtkRas,notch,hippo,p53,wnt,pi3k,cellcycle,myc,tgfBeta,nrf2,cpf,fa,hrr,ner,mmr,ber,tls,nhej];
const cw=bx.bandwidth(),ch=by.bandwidth();
const cell=(k,c,f,top,h)=>R(bG,bx(c)+.2,top,cw-.4,h,f);
cols.forEach(c=>{cell('',c,nmaColor(nmaRow[c]),by('NMA')+.3,ch-.6);cell('',c,nmaColor(ndaRow[c]),by('NDA')+.3,ch-.6);});
pathwayNames.forEach((name,i)=>{const set=new Set(pathRows[i]);const col=i<10?'#466c6c':'#c99a33';
 cols.forEach(c=>{cell('',c,'#cdcdcd',by(name)+.3,ch-.6);if(set.has(c))cell('',c,col,by(name)+.3,ch-.6);});});
cols.forEach(c=>cell('',c,c<smokerCount[0]?'#6a65aa':'#cdcdcd',256,10.4));
rowNames.forEach((n,i)=>T(bG,598.4,by(n)+ch/2,n,{size:9.3,anchor:'end',fill:'#3a3a3a'}));
T(bG,598.4,261,'Smoker',{size:9.3,anchor:'end',fill:'#3a3a3a'});
const pct=['94.3%','63.8%',...pathwayPct];
rowNames.forEach((n,i)=>T(bG,1012.9,by(n)+ch/2,pct[i],{size:8.8,fill:'#3a3a3a'}));
// legends
T(bG,634,280,'NMA/NDA',{size:9.1,fill:'#3a3a3a'});
[0,2,4,6,8].forEach((v,i)=>{R(bG,635.5+i*21.3,291.8,5,5,nmaColor(v));T(bG,645.8+i*21.3,294.3,v,{size:9.1,fill:'#3a3a3a'});});
[1,3,5,7].forEach((v,i)=>{R(bG,635.5+i*21.3,302.8,5,5,nmaColor(v));T(bG,645.8+i*21.3,305.3,v,{size:9.1,fill:'#3a3a3a'});});
T(bG,754.3,280,'Pathway alteration',{size:9.1,fill:'#3a3a3a'});
['#ececec','#466c6c','#c99a33'].forEach((c,i)=>{R(bG,755.5,291.8+i*10.9,5,5,c);T(bG,766.8,294.3+i*10.9,pathLegend[i],{size:9.1,fill:'#3a3a3a'});});
T(bG,887.8,280,'Smoker',{size:9.1,fill:'#3a3a3a'});
['#6a65aa','#cdcdcd'].forEach((c,i)=>{R(bG,892.5,291.8+i*10.9,5,5,c);T(bG,904.4,294.3+i*10.9,smokerLegend[i],{size:9.1,fill:'#3a3a3a'});});

// Radars
function radar(cx,cy,axes,non,smk,labels,lrx,lry,lyo,tl){
 const g=svg.append('g').attr('transform',`translate(${cx},${cy})`);
 const Rr=58.3,r=d3.scaleLinear().domain([0,1]).range([0,Rr]);
 const n=axes.length,ang=i=>i*2*Math.PI/n;
 g.append('circle').attr('r',Rr).attr('fill','#f1f1f1').attr('stroke','#cfcfcf').attr('stroke-width',.6).attr('stroke-dasharray','2 1.5');
 axes.forEach((a,i)=>{const p=d3.pointRadial(ang(i),Rr);L(g,0,0,p[0],p[1],'#d6d6d6',1);});
 [.55,.28].forEach(v=>g.append('circle').attr('r',r(v)).attr('fill','none').attr('stroke','#c4c4c4').attr('stroke-width',.6).attr('stroke-dasharray','2 1.5'));
 const line=d3.lineRadial().angle((d,i)=>ang(i)).radius(d=>r(d)).curve(d3.curveLinearClosed);
 [[non,'#3f6a9a'],[smk,'#c5585c']].forEach(([v,c])=>{
  g.append('path').attr('d',line(v)).attr('fill','none').attr('stroke',c).attr('stroke-width',1.3);
  v.forEach((d,i)=>{const p=d3.pointRadial(ang(i),r(d));g.append('circle').attr('cx',p[0]).attr('cy',p[1]).attr('r',2.1).attr('fill',c);});
 });
 axes.forEach((a,i)=>{const t=ang(i);T(g,lrx*Math.sin(t),lyo-lry*Math.cos(t),a,{size:7.2,anchor:'middle',fill:'#333'});});
 tl.forEach(d=>T(g,d[1],d[2],d[0],{size:8,anchor:'middle',fill:'#444'}));
}
radar(1129.7,65,radar1Axes,radar1Non,radar1Smk,null,74,60,3.5,[['1',-8,-49],['0.5',-12,-25],['0',-8,0]]);
radar(1303.3,72.7,radar2Axes,radar2Non,radar2Smk,null,71,61,0,[['1',-8,-54],['0.5',-10,-29],['0',-8,-4]]);
function radarLeg(x1,y,x2,x3,x4){
 [[x1,x2,'#3f6a9a','Non−smoking'],[x3,x4,'#c5585c','Smoking']].forEach(d=>{L(svg,d[0],y,d[0]+16,y,d[2],1.3);svg.append('circle').attr('cx',d[0]+8).attr('cy',y).attr('r',2.1).attr('fill',d[2]);T(svg,d[1],y,d[3],{size:7.2,fill:'#444'});});
}
radarLeg(1057,144.3,1079.5,1129,1152);
radarLeg(1245,146.7,1267.7,1317.7,1340);

// NMA/NDA boxes
function bBox(l,r,t,b,v8,v0,labs,vals,boxes,yt,ptx,pty,ptxt){
 const g=svg.append('g');
 const y=d3.scaleLinear().domain([0,8]).range([v0,v8]);
 const x=d3.scalePoint().domain(['Smoking','Non−smoking']).range([l,r]).padding(.59);
 [0,2,4,6,8].forEach(v=>{L(g,l,y(v),r,y(v),'#e9e9e9',.5);if(v<8)L(g,l,y(v+1),r,y(v+1),'#f3f3f3',.4);});
 x.domain().forEach(k=>L(g,x(k),t,x(k),b,'#e9e9e9',.5));
 const cols=['#c9504f','#3a4a8c'];
 x.domain().forEach((k,i)=>{box(g,x(k),28,y,boxes[i],cols[i],.9,1.3);
  g.append('g').selectAll('circle').data(vals[i]).join('circle').attr('cx',(d,j)=>x(k)+jit(j)*14).attr('cy',d=>y(d)).attr('r',1.35).attr('fill',cols[i]);});
 R(g,l,t,r-l,b-t,'none','#aaa',1.3);
 ax(g,d3.axisLeft(y).tickValues([0,2,4,6,8]).tickSize(1.8).tickPadding(1.5),l,0,7.5,'#4d4d4d');
 ax(g,d3.axisBottom(x).tickSize(1.8).tickPadding(1.5),0,b,7.5,'#444');
 T(g,l-13.5,(t+b)/2+3,yt,{size:7,anchor:'middle',rot:-90,fill:'#444'});
 T(g,ptx,pty,ptxt,{size:6.5,anchor:'middle',fill:'#333'});
}
bBox(1105.7,1208.3,161,297.7,167.3,286,null,[nmaSmk,nmaNon],nmaBoxes,'NMA',1156.7,167.7,'p = 0.037');
bBox(1249,1354,158,295,164.3,283,null,[ndaSmk,ndaNon],ndaBoxes,'NDA',1301.7,164.3,'p = 0.009');

// ---------- PANEL C ----------
(function(){
 const g=svg.append('g');
 const x=d3.scaleLinear().domain([0,6]).range([732,845.6]);
 const y=d3.scaleBand().domain(varNames.map(d=>d.join(' '))).range([342.9,509.3]).paddingInner(.1).paddingOuter(.05);
 varNames.forEach((n,i)=>{const k=n.join(' ');
  R(g,x(0),y(k),x(varValues[i])-x(0),y.bandwidth(),'#00007f','#5a5ad0',.6);
  n.forEach((s,j)=>T(g,720,y(k)+y.bandwidth()/2+(n.length>1?(j-.5)*10:0),s,{size:8.5,anchor:'end',fill:'#3a3a3a'}));
  L(g,722.5,y(k)+y.bandwidth()/2,725.4,y(k)+y.bandwidth()/2,'#555',.5);
 });
 T(g,x(varValues[0])+2.5,356,'*',{size:8,fill:'#222'});T(g,x(varValues[1])+2.5,384,'*',{size:8,fill:'#222'});
 L(g,725.4,340,725.4,512.3,'#444',.6);L(g,725.4,512.3,870,512.3,'#444',.6);
 ax(g,d3.axisBottom(x).tickValues([0,2,4,6]).tickFormat(d3.format('d')).tickSize(2).tickPadding(1),0,512.3,8,'#444');
 T(g,796,526.7,'% variance in',{size:8.2,anchor:'middle',fill:'#3a3a3a'});
 T(g,796,535.7,'I−TED explained',{size:8.2,anchor:'middle',fill:'#3a3a3a'});
 // lollipops
 const hi=[...itedSmkHi,...itedNonHi],mid=[...itedSmkMid,...itedNonMid],lo=[...itedSmkLo,...itedNonLo];
 const px=d3.scaleLinear().domain([0,hi.length-1]).range([908.9,1088.8]);
 const py=d3.scaleLinear().domain([0,.3]).range([511.7,369.3]);
 L(g,908,352.3,908,513,'#555',.5);L(g,908,513,1091,513,'#555',.5);
 ax(g,d3.axisLeft(py).tickValues([0,.1,.2,.3]).tickFormat(fmt1).tickSize(1).tickPadding(.5),908,0,2.5,'#777');
 hi.forEach((h,i)=>{const c=i<itedSmkHi.length?'#6b7ca6':'#8b3f60',xx=px(i);
  L(g,xx,py(h),xx,py(lo[i]),c,.6);
  [h,mid[i],lo[i]].forEach(v=>g.append('circle').attr('cx',xx).attr('cy',py(v)).attr('r',1.2).attr('fill','none').attr('stroke',c).attr('stroke-width',.4));
 });
 T(g,897.5,435,'I−TED',{size:5,weight:'bold',anchor:'middle',rot:-90,fill:'#222'});
 T(g,928,517,'Smoking',{size:4.8,weight:'bold',anchor:'middle',fill:'#222'});
 T(g,1012,517,'Non-smoking',{size:4.8,weight:'bold',anchor:'middle',fill:'#222'});
 itedLegend.forEach((s,i)=>{g.append('circle').attr('cx',1039).attr('cy',363+i*9.5).attr('r',2.4).attr('fill','none').attr('stroke','#666').attr('stroke-width',.4);L(g,1039,363+i*9.5-4,1039,363+i*9.5+4,'#888',.3);T(g,1044.6,363+i*9.5,s,{size:5,fill:'#333'});});
 // raincloud
 const ry=d3.scaleLinear().domain([0,.2]).range([506,395.7]);
 const rx=d3.scalePoint().domain(['NO','YES']).range([1170,1240.6]);
 L(g,1128.7,341,1128.7,506,'#555',.6);L(g,1128.7,506,1282.7,506,'#555',.6);
 ax(g,d3.axisLeft(ry).tickValues([0,.1,.2]).tickFormat(fmt1).tickSize(1.5).tickPadding(1),1128.7,0,4.5,'#555');
 ax(g,d3.axisBottom(rx).tickSize(1.5).tickPadding(1),0,506,4.5,'#555');
 T(g,1114,423,'I−TED',{size:6.5,weight:'bold',anchor:'middle',rot:-90,fill:'#222'});
 const rc=['#8a4f7d','#b0b0b0'],rv=[rainNO,rainYES];
 ['NO','YES'].forEach((k,i)=>{
  g.append('g').selectAll('circle').data(rv[i]).join('circle').attr('cx',(d,j)=>rx(k)+jit(j)*11).attr('cy',d=>ry(d)).attr('r',.9).attr('fill',i?'#999':'#b78aae');
  box(g,rx(k),28.2,ry,rainBoxes[i],rc[i],1,1.6);
 });
 const area=(base,w,vs,ds)=>d3.area().x0(base).x1((d,i)=>base+ds[i]*w).y(d=>ry(d)).curve(d3.curveBasis)(vs);
 g.append('path').attr('d',area(1188,21,densNOv,densNOd)).attr('fill','#93527f');
 g.append('path').attr('d',area(1258.8,13,densYESv,densYESd)).attr('fill','#aaaaaa');
 bracket(g,1170,1240.6,347,'0.0067',344.5,3);
})();

// ---------- PANEL D ----------
(function(){
 const g=svg.append('g');
 const hx=d3.scaleLinear().domain([0,105]).range([32.3,219]);
 const hy=d3.scaleLinear().domain([0,105]).range([621,809]);
 const hc=d3.scaleLinear().domain([0,.2,.3,.4,.5,.6,.7,.8,.87,1]).range(['#2f3f96','#5a7fb8','#8fb0d5','#d8e6f1','#fbf3c4','#f6c979','#e8864a','#d9573e','#c73a35','#a10d2e']);
 let sx=0;const starts=clusterSizes.map(s=>{const r=sx;sx+=s;return r;});
 const cwid=hx(1)-hx(0),chei=hy(1)-hy(0);
 clusterSizes.forEach((si,i)=>clusterSizes.forEach((sj,j)=>{
  for(let a=0;a<si;a++)for(let b=0;b<sj;b++){R(g,hx(starts[j]+b),hy(starts[i]+a),cwid+(starts[j]+b<104?.4:0),chei+(starts[i]+a<104?.4:0),hc(consensusMatrix[i][j]));}
 }));
 d3.range(1,105).forEach(k=>{L(g,hx(k),621,hx(k),809,'rgba(255,255,255,.13)',.3);L(g,32.3,hy(k),219,hy(k),'rgba(255,255,255,.13)',.3);});
 // annotation strips
 const stripCols=[['#7d9be6','#7d9be6','#7d9be6','#e07be0','#c69be8','#c69be8'],['#78a8e8','#78a8e8','#78a8e8','#78a8e8','#c49be8','#c49be8'],['#9ab0a8','#ffffff','#4f8f6a','#4f8f6a','#cfe0d0','#4f8f6a']];
 stripCols.forEach((row,r)=>row.forEach((c,i)=>R(g,hx(starts[i]),611.7+r*3.1,hx(clusterSizes[i])-hx(0),2.7,c)));
 L(g,32.3,609,219,609,'#6a6aa0',.6);
 // dendrograms
 const top=(a,b,h,hc1,hc2)=>g.append('path').attr('d',`M${hx(a)},${608-hc1}V${608-h}H${hx(b)}V${608-hc2}`).attr('fill','none').attr('stroke','#999').attr('stroke-width',.5);
 top(8,42,16.3,5.3,4.7);top(3.4,12,5.3,2,2);top(1,5,2,0,0);top(10,14,2,0,0);top(40,44,4.7,2,2);
 const left=(a,b,h,h1,h2)=>g.append('path').attr('d',`M${31-h1},${hy(a)}H${31-h}V${hy(b)}H${31-h2}`).attr('fill','none').attr('stroke','#999').attr('stroke-width',.5);
 left(7.8,42.3,17,6,5);left(3.2,12.5,6,3,0);left(1,4.6,3,0,0);left(39.5,45,5,2,2);
 T(g,126,587,'consensusmap',{size:3.8,weight:'bold',anchor:'middle',fill:'#222'});
 // colourbar
 const cb=d3.scaleLinear().domain([0,1]).range([672.7,621.7]);
 d3.range(0,1,.02).forEach(v=>R(g,225,cb(v+.02),4,cb(v)-cb(v+.02)+.3,hc(v)));
 [0,.2,.4,.6,.8,1].forEach(v=>T(g,231,cb(v),v,{size:2.5,fill:'#555'}));
 [['basis',622.7,['#4040c0','#c040c0']],['consensus',637.5,['#4040c0','#c040c0']]].forEach(d=>{T(g,243,d[1],d[0],{size:2.8,weight:'bold',fill:'#222'});d[2].forEach((c,i)=>{R(g,243,d[1]+2+i*3.3,2,2,c);T(g,246,d[1]+3+i*3.3,i+1,{size:2.5,fill:c});});});
 T(g,243,652,'silhouette',{size:2.8,weight:'bold',fill:'#222'});
 ['0.96','0.55','0.10'].forEach((s,i)=>{R(g,243,654+i*3.3,2,2,['#2a6a4a','#8ab09a','#e8f0e8'][i]);T(g,246,655+i*3.3,s,{size:2.5,fill:'#555'});});
 g.append('line').attr('x1',221.5).attr('x2',221.5).attr('y1',621).attr('y2',809).attr('stroke','#ccc').attr('stroke-width',1.2).attr('stroke-dasharray','.8 .8');
 g.append('line').attr('x1',33).attr('x2',219).attr('y1',812).attr('y2',812).attr('stroke','#ddd').attr('stroke-width',1).attr('stroke-dasharray','.8 .8');
})();
const pctLab=d=>(d*100).toFixed(2)+'%';
function dStack(c,title,ptxt,px,py,xlabY,xT,ty,tX,tY,legTitle,legX,legY,items,lsz){
 const s=stackPlot({...c,cats:rnaSubtypes,labelFn:pctLab,lf:'#333',stroke:'#333',sw:.8});
 T(svg,px,py,ptxt,{size:4,weight:'bold',fill:'#222'});
 T(svg,xT,xlabY,'RNA subtype',{size:c.xs-.4,weight:'bold',anchor:'middle',fill:'#222'});
 T(svg,tX,tY,title,{size:c.xs-.5,weight:'bold',anchor:'middle',rot:-90,fill:'#222'});
 T(svg,legX,legY,legTitle,{size:lsz,weight:'bold',fill:'#222'});
 items.forEach((it,i)=>{const h=it.h;R(svg,legX+it.dx,legY+it.dy+i*h,it.w,h,it.c,'#333',.5);T(svg,legX+it.dx+it.w+3,legY+it.dy+i*h+h/2,it.t,{size:lsz-.3,fill:'#333'});});
}
const cRed='#b5271f',cBlue='#6d8fe6';
dStack({l:292.3,e:363,t:589.3,b:689,y0:684.7,y1:593.7,bl:296.3,br:359.3,pad:.22,keys:['NO','YES'],series:[smokerNO,smokerYES],colors:[cBlue,cRed],ts:5.8,xs:6.5,ls:2.5},'Smoker propotion','p=0.009',292,584.3,699,327.7,0,274,639,'Smoker',372,628.7,[{t:'YES',c:cRed,dx:0,dy:7,w:8,h:7.3},{t:'NO',c:cBlue,dx:0,dy:7,w:8,h:7.3}],6);
dStack({l:424,e:506.7,t:588,b:685,y0:680.7,y1:593.3,bl:429,br:501.3,pad:.2,keys:['M','F'],series:[genderM,genderF],colors:[cBlue,cRed],ts:5.8,xs:6.5,ls:2.5},'Sample propotion','p=0.0011',424,583,696.7,465,0,405.5,637,'Gender',512,626.7,[{t:'F',c:cRed,dx:2.3,dy:6.3,w:7.4,h:8.4},{t:'M',c:cBlue,dx:2.3,dy:6.3,w:7.4,h:8.4}],6);
dStack({l:293.7,e:358.3,t:722,b:819.3,y0:800.3,y1:727.3,bl:297.3,br:354.7,pad:.25,keys:['OTHER','LUSC','LUAD'],series:[cancerOTHER,cancerLUSC,cancerLUAD],colors:['#c8c8c8',cBlue,cRed],ticks:[-.25,0,.25,.5,.75,1],ts:5.8,xs:6.5,ls:2.5},'Sample propotion','p=0',294,717.7,831,326,0,273.3,771.3,'Cancer',366,756.7,[{t:'LUAD',c:cRed,dx:0,dy:6.6,w:8,h:8.4},{t:'LUSC',c:cBlue,dx:0,dy:6.6,w:8,h:8.4},{t:'OTHER',c:'#c8c8c8',dx:0,dy:6.6,w:8,h:8.4}],6);
dStack({l:433,e:495.7,t:714,b:814.3,y0:806.7,y1:719,bl:437.3,br:492.7,pad:.22,keys:['III','II','I'],series:[tnmIII,tnmII,tnmI],colors:['#e4640f','#e39a1c','#f3c526'],ts:4.6,xs:5.4,ls:2.2},'Stage propotion','p=0.0068',433,710,824.7,464.7,0,418.3,760,'TNM',502.7,752,[{t:'I',c:'#f3c526',dx:0,dy:5,w:7.3,h:7.4},{t:'II',c:'#e39a1c',dx:0,dy:5,w:7.3,h:7.4},{t:'III',c:'#e4640f',dx:0,dy:5,w:7.3,h:7.4}],4.6);

// ---------- PANEL E ----------
(function(){
 const g=svg.append('g');
 const terms=[...termsUp,...termsDown];
 const y=d3.scaleBand().domain(terms).range([571.43,834.03]).paddingInner(.49).paddingOuter(.245);
 const q=d3.scaleLinear().domain([-25,5]).range([759.3,958.4]);
 const gn=d3.scaleLinear().domain([-90,20]).range([746,964.8]);
 geneTicks.forEach(t=>L(g,gn(t),572,gn(t),834,'#f0f0f0',.5));
 qTicks.forEach(t=>L(g,q(t),572,q(t),834,'#ececec',.5));
 terms.forEach(t=>L(g,743,y(t)+y.bandwidth()/2,983,y(t)+y.bandwidth()/2,'#f0f0f0',.5));
 terms.forEach((t,i)=>{const up=i<10,v=up?qUp[i]:qDown[i-10];
  const x0=up?q(0):q(-v),x1=up?q(v):q(0);
  R(g,x0,y(t),x1-x0,y.bandwidth(),up?'#73b8bd':'#e07b73');
  T(g,741,y(t)+y.bandwidth()/2,t,{size:8.25,anchor:'end',fill:'#4d4d4d'});
 });
 ax(g,d3.axisTop(gn).tickValues(geneTicks).tickFormat(d=>Math.abs(d)).tickSize(0).tickPadding(2),0,569,8,'#4d4d4d');
 ax(g,d3.axisBottom(q).tickValues(qTicks).tickFormat(d=>Math.abs(d)).tickSize(0).tickPadding(3),0,834,8,'#4d4d4d');
 T(g,863,555.3,'Number of genes',{size:10.4,anchor:'middle',fill:'#111'});
 T(g,863,851,'−log10(Qvalue)',{size:10.5,anchor:'middle',fill:'#111'});
 T(g,944,743,'Change',{size:7.5,fill:'#222'});
 R(g,944.7,752,9.3,6.7,'#e07b73');R(g,944.7,763,9.3,6.7,'#73b8bd');
 T(g,959,755.3,'down',{size:5.5,fill:'#333'});T(g,959,766.5,'up',{size:5.5,fill:'#333'});
})();

// ---------- PANEL F ----------
[[1001.7,559,183.3,131.7],[1197,559,184.7,131.7],[1003,700,184,132.7],[1197,700.7,184.7,132]].forEach(r=>svg.append('rect').attr('x',r[0]).attr('y',r[1]).attr('width',r[2]).attr('height',r[3]).attr('rx',2).attr('fill','#fafafa').attr('stroke','#e6e6e6').attr('stroke-width',1));
[[1069.3,563.3,94,125.7],[1269,562.7,93.7,125],[1069.3,707.3,94,124.4],[1269,703.3,93.7,124]].forEach(r=>R(svg,r[0],r[1],r[2],r[3],'#fff','#c0505a',1.3));
const fRed='#d14a33',fBlue='#3b4a8a';
function fPlot(l,r,t,b,yd,yr,ticks,fmt,non,smk,boxes,tty,pX,pY,pT,name,nx,ny){
 jitterPlot({cats:immuneCats,pad:.57,l,r,t,b,yd,yr,ticks,fmt,bw:19,jw:8.5,pr:1.15,dense:.3,ts:4.6,xs:5.2,xp:1,bs:.6,fw:.6,frame:'#999',tc:'#555',
  groups:[{vals:non,box:boxes[0],color:fRed,bcolor:'#e6917f'},{vals:smk,box:boxes[1],color:fBlue,bcolor:'#5a68a0'}],boxOver:true,ytitle:'1−Spearman correlation',ytx:l-14.5,ys:4.8});
 T(svg,(l+r)/2,tty,'Intratumoral heterogeneity',{size:5.2,anchor:'middle',fill:'#333'});
 T(svg,pX,pY,pT,{size:4.6,anchor:'middle',fill:'#333'});
 T(svg,nx,ny,name,{size:9,weight:'bold',fill:'#111'});
}
const f25=[0,.25,.5,.75,1];
fPlot(1087.3,1160.7,573.3,673.3,[0,1],[668.3,579.7],f25,fmt2,cibNon,cibSmk,immuneBoxes.cib,568.3,1125,578.3,'p = 0.001','CIBERSORT',1008.3,568.3);
fPlot(1286.7,1360.7,573.3,671.7,[0,1],[666.7,603.3],[0,.5,1],fmt1,epicNon,epicSmk,immuneBoxes.epic,567.7,1324,602.3,'p = 0.01','EPIC',1206.7,568.3);
fPlot(1087.3,1160.7,716.7,816,[0,1],[812.7,723.7],f25,fmt2,xcellNon,xcellSmk,immuneBoxes.xcell,711.7,1125,722,'p = 0','xCell',1012.3,710.7);
fPlot(1286.7,1360.7,712.7,811.7,[0,1],[807.3,719.3],f25,fmt2,mcpNon,mcpSmk,immuneBoxes.mcp,707.7,1325,718,'p = 0','MCPCounter',1202.3,711);

// ---------- CAPTION ----------
captionLines.forEach((ln,i)=>{const t=svg.append('text').attr('x',19).attr('y',878+i*35.3).attr('font-size',19.75).attr('fill','#000').style('font-family','"Liberation Serif",serif');
 ln.forEach(s=>t.append('tspan').attr('font-weight',s[1]?'bold':'normal').text(s[0]));});
</script></body></html>
